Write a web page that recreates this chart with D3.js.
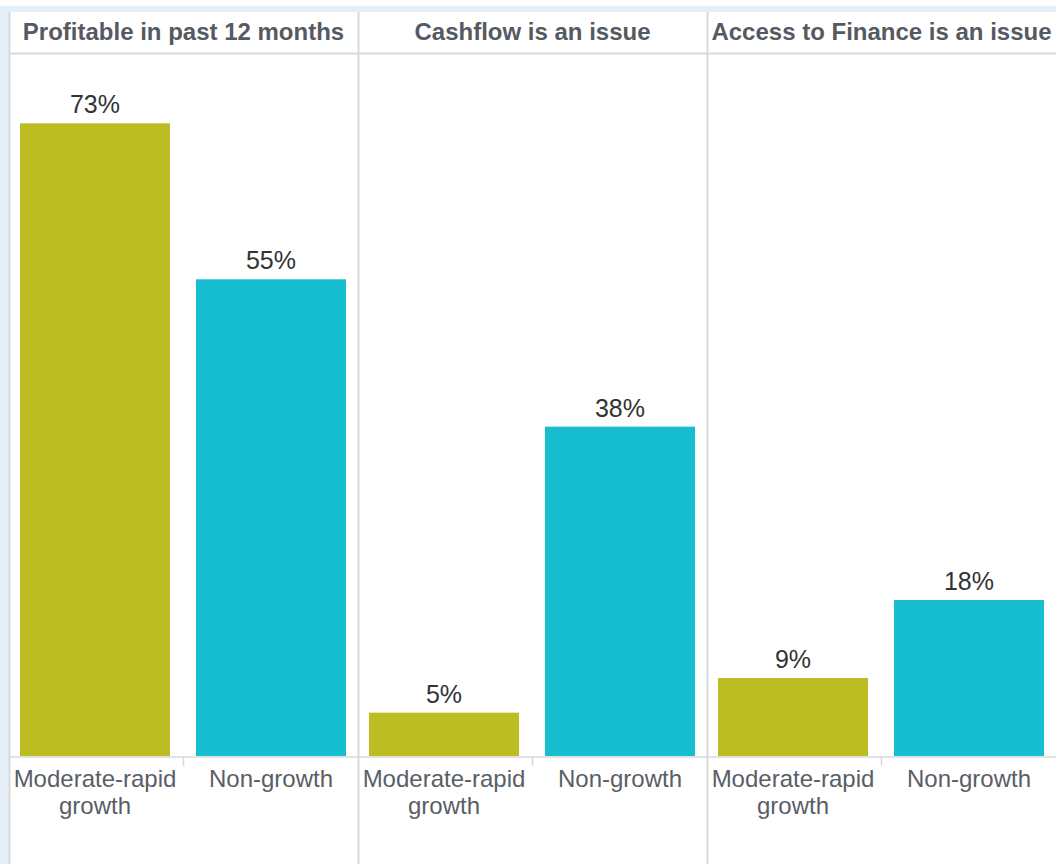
<!DOCTYPE html>
<html>
<head>
<meta charset="utf-8">
<script src="https://cdn.jsdelivr.net/npm/d3@7"></script>
<style>
  html, body { margin: 0; padding: 0; background: #fff; }
  svg { display: block; font-family: "Liberation Sans", Arial, sans-serif; }
</style>
</head>
<body>
<svg id="chart_svg"></svg>
<script>
// Data
var panels = ['Profitable in past 12 months', 'Cashflow is an issue', 'Access to Finance is an issue'];
var groups = ['Moderate-rapid growth', 'Non-growth'];
var groupLines = [['Moderate-rapid', 'growth'], ['Non-growth']];
var moderateRapid = [73, 5, 9];
var nonGrowth = [55, 38, 18];
var colors = ['#bcbd22', '#17becf'];

var frameW = 1056,
    frameH = 864,
    padLeft = 9,
    padTop = 12,
    headerBottom = 53,
    baseline = 756;

var frame = d3.select('svg#chart_svg')
    .attr('width', frameW)
    .attr('height', frameH);

// light blue frame around the view
frame.append('rect')
    .attr('x', 0).attr('y', 6)
    .attr('width', frameW).attr('height', frameH - 6)
    .attr('fill', '#e4eff8');
frame.append('rect')
    .attr('x', padLeft).attr('y', padTop)
    .attr('width', frameW - padLeft).attr('height', frameH - padTop)
    .attr('fill', '#fff');

var xPanel = d3.scaleBand()
    .domain(panels)
    .range([padLeft, frameW]);

var xGroup = d3.scaleBand()
    .domain(groups)
    .range([0, 348])
    .paddingInner(26 / 176)
    .paddingOuter(11 / 176);

var yScale = d3.scaleLinear()
    .domain([0, 80])
    .range([baseline, baseline - 80 * 8.667]);

var lineColor = '#d9d9d9';

// grid lines
frame.append('line')
    .attr('x1', padLeft).attr('x2', frameW)
    .attr('y1', headerBottom + 0.5).attr('y2', headerBottom + 0.5)
    .attr('stroke', lineColor).attr('stroke-width', 2);
frame.append('line')
    .attr('x1', padLeft).attr('x2', frameW)
    .attr('y1', baseline + 1).attr('y2', baseline + 1)
    .attr('stroke', lineColor).attr('stroke-width', 1.5);
frame.selectAll('line.divider')
    .data(panels)
    .enter()
    .append('line')
    .attr('class', 'divider')
    .attr('x1', function (d) { return xPanel(d) + 0.5; })
    .attr('x2', function (d) { return xPanel(d) + 0.5; })
    .attr('y1', padTop).attr('y2', frameH)
    .attr('stroke', lineColor).attr('stroke-width', 2);

var data = [];
panels.forEach(function (p, i) {
    data.push({ panel: p, group: groups[0], value: moderateRapid[i], color: colors[0] });
    data.push({ panel: p, group: groups[1], value: nonGrowth[i], color: colors[1] });
});

// headers
frame.selectAll('text.header')
    .data(panels)
    .enter()
    .append('text')
    .attr('class', 'header')
    .attr('x', function (d) { return xPanel(d) + xPanel.bandwidth() / 2; })
    .attr('y', 40)
    .attr('text-anchor', 'middle')
    .attr('font-size', 24)
    .attr('font-weight', 'bold')
    .attr('fill', '#555a62')
    .text(function (d) { return d; });

// bars
frame.selectAll('rect.bar')
    .data(data)
    .enter()
    .append('rect')
    .attr('class', 'bar')
    .attr('x', function (d) { return xPanel(d.panel) + xGroup(d.group); })
    .attr('y', function (d) { return yScale(d.value); })
    .attr('width', xGroup.bandwidth())
    .attr('height', function (d) { return baseline - yScale(d.value); })
    .attr('fill', function (d) { return d.color; });

// value labels
frame.selectAll('text.value')
    .data(data)
    .enter()
    .append('text')
    .attr('class', 'value')
    .attr('x', function (d) { return xPanel(d.panel) + xGroup(d.group) + xGroup.bandwidth() / 2; })
    .attr('y', function (d) { return yScale(d.value) - 10; })
    .attr('text-anchor', 'middle')
    .attr('font-size', 25)
    .attr('fill', '#333')
    .text(function (d) { return d.value + '%'; });

// small ticks between groups
frame.selectAll('line.tick')
    .data(panels)
    .enter()
    .append('line')
    .attr('class', 'tick')
    .attr('x1', function (d) { return xPanel(d) + 174.5; })
    .attr('x2', function (d) { return xPanel(d) + 174.5; })
    .attr('y1', baseline + 1).attr('y2', baseline + 10)
    .attr('stroke', lineColor).attr('stroke-width', 1.5);

// group labels
var labels = frame.selectAll('text.group')
    .data(data)
    .enter()
    .append('text')
    .attr('class', 'group')
    .attr('text-anchor', 'middle')
    .attr('font-size', 24)
    .attr('fill', '#5a5e66');

labels.selectAll('tspan')
    .data(function (d) {
        var cx = xPanel(d.panel) + xGroup(d.group) + xGroup.bandwidth() / 2;
        return groupLines[groups.indexOf(d.group)].map(function (t, i) {
            return { text: t, x: cx, i: i };
        });
    })
    .enter()
    .append('tspan')
    .attr('x', function (d) { return d.x; })
    .attr('y', function (d) { return 787 + d.i * 27; })
    .text(function (d) { return d.text; });
</script>
</body>
</html>
